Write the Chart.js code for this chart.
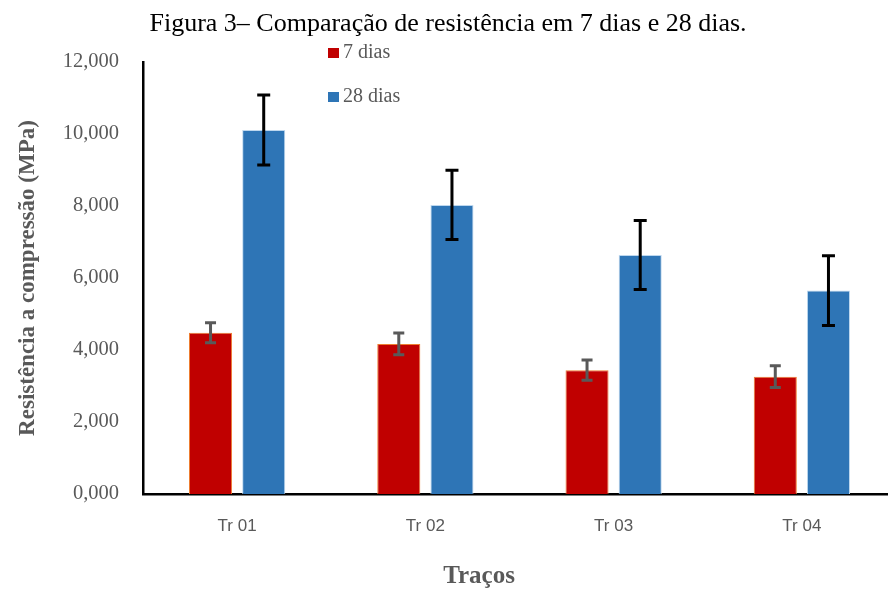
<!DOCTYPE html>
<html>
<head>
<meta charset="utf-8">
<script src="https://cdn.jsdelivr.net/npm/chart.js@4"></script>
<style>
  html, body { margin: 0; padding: 0; background: #fff; overflow: hidden; }
  #wrap { width: 896px; height: 590px; position: relative; }
</style>
</head>
<body>
<div id="wrap"><canvas id="resistenciaChart"></canvas></div>
<script>
const tracos = ['Tr 01', 'Tr 02', 'Tr 03', 'Tr 04'];
const dias7 = [4.48, 4.17, 3.44, 3.26];
const erro7 = [0.28, 0.30, 0.28, 0.30];
const dias28 = [10.11, 8.03, 6.64, 5.65];
const erro28 = [0.97, 0.96, 0.96, 0.97];
const yTicks = [0, 2, 4, 6, 8, 10, 12];

const cinza = '#595959';
const serif = "'Liberation Serif', 'Times New Roman', serif";

// barras de erro (desvio) desenhadas sobre cada barra
const errorBars = {
    id: 'errorBars',
    afterDatasetsDraw(chart) {
        const ctx = chart.ctx;
        const y = chart.scales.y;
        chart.data.datasets.forEach((ds, i) => {
            const meta = chart.getDatasetMeta(i);
            ctx.save();
            ctx.strokeStyle = ds.errorColor;
            ctx.lineWidth = 3;
            meta.data.forEach((bar, j) => {
                const v = ds.data[j];
                const e = ds.errors[j];
                const top = y.getPixelForValue(v + e);
                const bot = y.getPixelForValue(v - e);
                const w = ds.capWidth / 2;
                ctx.beginPath();
                ctx.moveTo(bar.x, top);
                ctx.lineTo(bar.x, bot);
                ctx.moveTo(bar.x - w, top);
                ctx.lineTo(bar.x + w, top);
                ctx.moveTo(bar.x - w, bot);
                ctx.lineTo(bar.x + w, bot);
                ctx.stroke();
            });
            ctx.restore();
        });
    }
};

// legenda e título do eixo x no lugar do original
const extras = {
    id: 'extras',
    afterDraw(chart) {
        const ctx = chart.ctx;
        ctx.save();
        const ys = [53, 97];
        chart.data.datasets.forEach((ds, i) => {
            ctx.fillStyle = ds.backgroundColor;
            ctx.fillRect(328, ys[i] - 5, 11, 10);
            ctx.fillStyle = cinza;
            ctx.font = '20px ' + serif;
            ctx.textBaseline = 'middle';
            ctx.textAlign = 'left';
            ctx.fillText(ds.label, 343, ys[i]);
        });
        ctx.font = 'bold 25px ' + serif;
        ctx.fillStyle = cinza;
        ctx.textAlign = 'center';
        ctx.fillText('Traços', 479, 577);
        ctx.restore();
    }
};

new Chart(document.getElementById('resistenciaChart').getContext('2d'), {
    type: 'bar',
    data: {
        labels: tracos,
        datasets: [{
            label: '7 dias',
            data: dias7,
            errors: erro7,
            errorColor: '#595959',
            capWidth: 11,
            backgroundColor: '#C00000',
            borderColor: '#ED7D31',
            borderWidth: 1,
            barPercentage: 0.81,
            categoryPercentage: 0.565
        }, {
            label: '28 dias',
            data: dias28,
            errors: erro28,
            errorColor: '#000000',
            capWidth: 13,
            backgroundColor: '#2E75B6',
            borderColor: '#BDD7EE',
            borderWidth: 1,
            barPercentage: 0.81,
            categoryPercentage: 0.565
        }]
    },
    options: {
        responsive: true,
        maintainAspectRatio: false,
        animation: false,
        layout: { padding: 0 },
        plugins: {
            legend: { display: false },
            tooltip: { enabled: false },
            title: {
                display: true,
                text: 'Figura 3– Comparação de resistência em 7 dias e 28 dias.',
                color: '#000',
                font: { family: serif, size: 26, weight: 'normal' },
                padding: { top: 9, bottom: 21.8 }
            }
        },
        scales: {
            x: {
                grid: { display: false, drawTicks: false },
                border: { color: '#000', width: 2.5 },
                ticks: {
                    color: cinza,
                    font: { family: "'Liberation Sans', sans-serif", size: 17 },
                    padding: 22
                },
                afterFit: (scale) => { scale.height = 96; }
            },
            y: {
                min: 0,
                max: 12,
                afterBuildTicks: (scale) => { scale.ticks = yTicks.map(v => ({ value: v })); },
                grid: { display: false, drawTicks: false },
                border: { color: '#000', width: 2.5 },
                ticks: {
                    color: cinza,
                    font: { family: serif, size: 20.5 },
                    padding: 24,
                    callback: (v) => v.toFixed(3).replace('.', ',')
                },
                title: {
                    display: true,
                    text: 'Resistência a compressão (MPa)',
                    color: cinza,
                    font: { family: serif, size: 23, weight: 'bold' },
                    padding: { top: 14, bottom: 0 }
                },
                afterFit: (scale) => { scale.width = 143; }
            }
        }
    },
    plugins: [errorBars, extras]
});
</script>
</body>
</html>
